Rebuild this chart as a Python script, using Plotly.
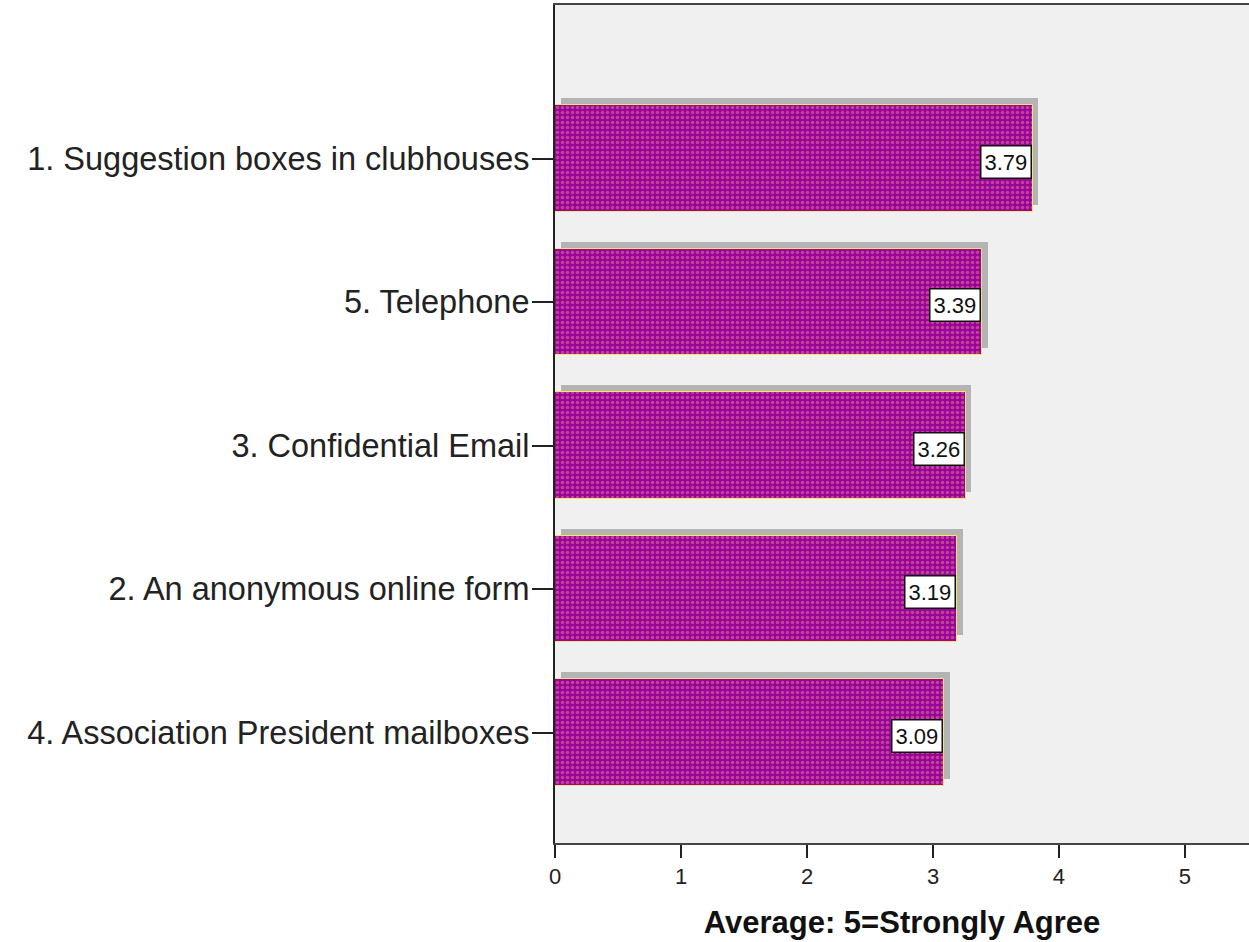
import plotly.graph_objects as go

categories = [
    "1. Suggestion boxes in clubhouses",
    "5. Telephone",
    "3. Confidential Email",
    "2. An anonymous online form",
    "4. Association President mailboxes",
]
values = [3.79, 3.39, 3.26, 3.19, 3.09]
value_labels = ["3.79", "3.39", "3.26", "3.19", "3.09"]
x_ticks = [0, 1, 2, 3, 4, 5]
x_title = "Average: 5=Strongly Agree"

positions = list(range(len(categories)))
shadow_dx = 0.045
shadow_dy = 0.049

fig = go.Figure()

# drop shadow
fig.add_trace(go.Bar(
    y=[p - shadow_dy for p in positions],
    x=values,
    base=shadow_dx,
    orientation="h",
    width=0.745,
    marker=dict(color="#b4b4b4", line=dict(width=0)),
    hoverinfo="skip",
    showlegend=False,
))

# main bars
fig.add_trace(go.Bar(
    y=positions,
    x=values,
    orientation="h",
    width=0.745,
    marker=dict(
        color="#990099",
        line=dict(color="#f5e663", width=1),
        pattern=dict(shape=".", fgcolor="#e48a94", size=5, solidity=0.4, fillmode="overlay"),
    ),
    showlegend=False,
))

for p, v, lab in zip(positions, values, value_labels):
    fig.add_annotation(
        x=v, y=p, text=lab, showarrow=False,
        xanchor="right", yanchor="middle", xshift=-1, yshift=-3,
        font=dict(family="Liberation Sans, Arial", size=22, color="#111111"),
        bgcolor="white", bordercolor="#111111", borderwidth=1.5, borderpad=3,
    )

fig.update_layout(
    width=1249, height=942,
    margin=dict(l=555, r=0, t=5, b=99),
    paper_bgcolor="white",
    plot_bgcolor="#f0f0f0",
    barmode="overlay",
    bargap=0,
    font=dict(family="Liberation Sans, Arial", color="#222222"),
)

fig.update_xaxes(
    range=[0, 5.508],
    tickvals=x_ticks,
    ticktext=[str(t) for t in x_ticks],
    ticks="outside", ticklen=13, tickwidth=2, tickcolor="#222222",
    tickfont=dict(family="Liberation Sans, Arial", size=22, color="#222222"),
    showline=True, linecolor="#444444", linewidth=2, mirror=True,
    showgrid=False, zeroline=False,
    title=dict(text=x_title, font=dict(family="Liberation Sans, Arial", size=31, color="#111111", weight="bold"), standoff=23),
)

fig.update_yaxes(
    range=[4.77, -1.07],
    tickvals=positions,
    ticktext=categories,
    ticks="outside", ticklen=21, tickwidth=2, tickcolor="#222222",
    tickfont=dict(family="Liberation Sans, Arial", size=32.5, color="#222222"),
    ticklabelstandoff=-4,
    showline=True, linecolor="#222222", linewidth=2, mirror=False,
    showgrid=False, zeroline=False,
)

fig.write_html(
    "out.html",
    config={"displayModeBar": False},
    post_script="document.body.style.margin='0';document.body.style.overflow='hidden';",
)
